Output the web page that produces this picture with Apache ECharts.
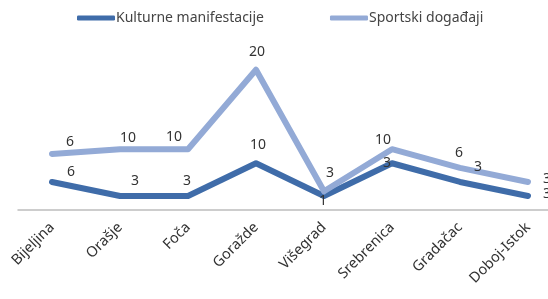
<!DOCTYPE html>
<html lang="bs">
  <head>
    <meta charset="UTF-8" />
    <title>Manifestacije</title>
    <script src="https://cdn.jsdelivr.net/npm/echarts@6/dist/echarts.min.js"></script>
    <style>
      html, body { margin: 0; padding: 0; background: #fff; }
      #main { width: 548px; height: 299px; }
    </style>
  </head>
  <body>
    <div id="main"></div>
  </body>
  <script>
    // gradovi
    const gradovi = ["Bijeljina", "Orašje", "Foča", "Goražde", "Višegrad", "Srebrenica", "Gradačac", "Doboj-Istok"];
    // vrijednosti (linije su naslagane jedna na drugu)
    const kulturne = [6, 3, 3, 10, 3, 10, 6, 3];
    const sportski = [6, 10, 10, 20, 1, 3, 3, 3];
    // natpisi kako stoje na slici
    const kulturneNatpisi = ["6", "3", "3", "10", "1", "3", "3", "3"];
    const sportskiNatpisi = ["6", "10", "10", "20", "3", "10", "6", "3"];

    // pomaci natpisa od tacke
    const kulturnePomak = [[19, -10], [15, -15], [-1, -15], [2, -18], [-1, 5], [-5, 0], [18, -15], [19, -2]];
    const sportskiPomak = [[18, -12], [8, -11], [-14, -12], [1, -18], [6, -18], [-9, -9], [-1, -15], [19, -3]];

    function tacke(vrijednosti, natpisi, pomaci) {
      return vrijednosti.map(function (v, i) {
        return {
          value: v,
          label: { formatter: natpisi[i], offset: pomaci[i] },
        };
      });
    }

    var chartDom = document.getElementById("main");
    var myChart = echarts.init(chartDom);
    var option = {
      animation: false,
      textStyle: { fontFamily: "Noto Sans" },
      legend: {
        top: 6,
        left: 72,
        itemWidth: 38,
        itemHeight: 5,
        itemGap: 66,
        icon: "roundRect",
        textStyle: { fontSize: 14, color: "#444", padding: [0, 0, 0, -4] },
        data: ["Kulturne manifestacije", "Sportski događaji"],
      },
      grid: { left: 18, right: -14, top: 23, bottom: 89, outerBoundsMode: "none", containLabel: false },
      xAxis: {
        type: "category",
        data: gradovi,
        axisLine: { lineStyle: { color: "#bdbdbd", width: 1.5 } },
        axisTick: { show: false },
        axisLabel: { rotate: 45, fontSize: 14.5, color: "#333", margin: 15, interval: 0 },
      },
      yAxis: {
        type: "value",
        min: 0,
        max: 40,
        show: false,
        splitLine: { show: false },
      },
      series: [
        {
          name: "Kulturne manifestacije",
          type: "line",
          stack: "ukupno",
          showSymbol: true,
          symbol: "circle",
          symbolSize: 1,
          color: "#3f6ca9",
          lineStyle: { width: 6, color: "#3f6ca9", cap: "round", join: "round" },
          label: { show: true, position: "inside", fontSize: 14, color: "#333" },
          data: tacke(kulturne, kulturneNatpisi, kulturnePomak),
        },
        {
          name: "Sportski događaji",
          type: "line",
          stack: "ukupno",
          showSymbol: true,
          symbol: "circle",
          symbolSize: 1,
          color: "#93aad6",
          lineStyle: { width: 6, color: "#93aad6", cap: "round", join: "round" },
          label: { show: true, position: "inside", fontSize: 14, color: "#333" },
          data: tacke(sportski, sportskiNatpisi, sportskiPomak),
        },
      ],
    };
    option && myChart.setOption(option);
  </script>
</html>
